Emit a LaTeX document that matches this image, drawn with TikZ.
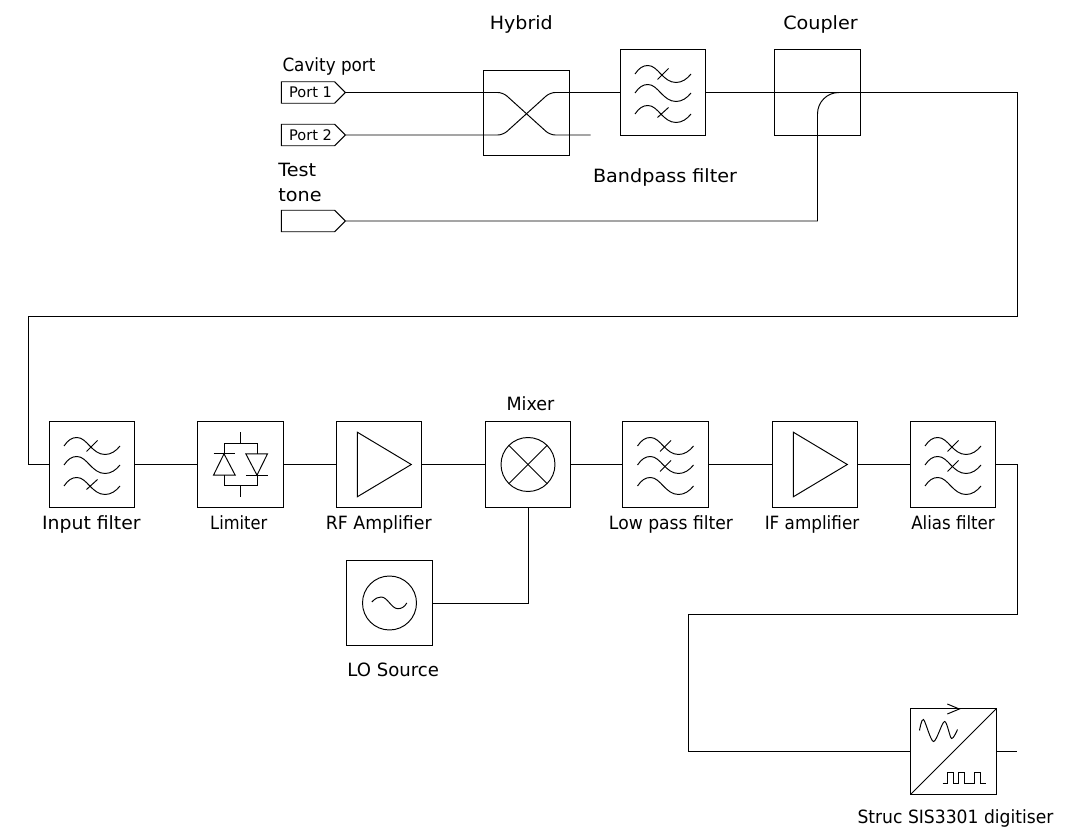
\documentclass[tikz,border=0pt]{standalone}
\usepackage{fontspec}
\setmainfont{DejaVu Sans}
\usetikzlibrary{shapes.symbols}
\tikzset{
    line/.style={line width=0.55pt},
    blockbox/.style={draw,line width=0.55pt,minimum size=1.71cm,inner sep=0pt},
    label/.style={font=\fontsize{10.4}{13.7}\selectfont\addfontfeature{FakeStretch=#1},inner sep=0pt,anchor=base},
    label/.default=0.94,
    portbox/.style={draw,line width=0.55pt,signal,signal to=east,signal pointer angle=90,
        minimum width=1.28cm,minimum height=0.43cm,inner sep=0pt,
        font=\fontsize{8.3}{9}\selectfont},
    wavesym/.pic={
        \foreach \wy in {-18.5,0.5,21.5}{
            \draw[line,yshift=-\wy*0.02cm] (-28,0) .. controls (-24,-6) and (-20,-8.5) .. (-15,-8.5)
                .. controls (-5,-8.5) and (0,8.5) .. (13,8.5)
                .. controls (19,8.5) and (24,5) .. (28,0);
        }
    },
    filtersym/.pic={
        \pic {wavesym};
        \draw[line] (-5.5,-13) -- (5.5,-24);
        \draw[line] (-5.5,25) -- (5.5,15);
    },
    lowpasssym/.pic={
        \pic {wavesym};
        \draw[line] (-5.5,-13) -- (5.5,-24);
        \draw[line] (-5.5,7) -- (5.5,-4);
    },
    limitersym/.pic={
        \draw[line] (0,-32.3) -- (0,-21.3);
        \draw[line] (0,21.3) -- (0,32.3);
        \draw[line] (-16.5,-10.7) -- (-16.5,-21.3) -- (16.5,-21.3) -- (16.5,-10.7);
        \draw[line] (-16.5,10.7) -- (-16.5,21.3) -- (16.5,21.3) -- (16.5,10.7);
        \draw[line] (-27,-10.7) -- (-5.3,-10.7);
        \draw[line] (-16.5,-10.7) -- (-27,10.7) -- (-5.3,10.7) -- cycle;
        \draw[line] (5.3,10.7) -- (27,10.7);
        \draw[line] (16.5,10.7) -- (27,-10.7) -- (5.3,-10.7) -- cycle;
    },
    ampsym/.pic={
        \draw[line] (-21.7,-32.3) -- (-21.7,32.3) -- (32.3,0) -- cycle;
    },
    mixersym/.pic={
        \draw[line] (0,0) circle (0.54cm);
        \draw[line] (-19,-19) -- (19,19);
        \draw[line] (-19,19) -- (19,-19);
    },
    sourcesym/.pic={
        \draw[line] (0,0) circle (0.54cm);
        \draw[line] (-17.7,-1) .. controls (-14,-5) and (-11,-6) .. (-8.3,-6)
            .. controls (-2,-6) and (2,5.7) .. (8.3,5.7)
            .. controls (12,5.7) and (15,4) .. (17.3,0);
    },
    adcsym/.pic={
        \draw[line] (-42.75,42.75) -- (42.75,-42.75);
        \draw[line] (-6.2,-47.5) -- (5.8,-42.5) -- (-6.2,-37.5);
        \draw[line] plot[smooth] coordinates {(-34,-21) (-30,-32) (-20,-10) (-9,-30) (-2,-13) (4,-22)};
        \draw[line] (-11,32) -- (-5.7,32) -- (-5.7,21) -- (0,21) -- (0,32) -- (5.3,32) -- (5.3,21)
            -- (10.7,21) -- (10.7,32) -- (21,32) -- (21,21) -- (26.7,21) -- (26.7,32) -- (32,32);
    }
}

\begin{document}
\begin{tikzpicture}[x=0.02cm,y=-0.02cm]
    \useasboundingbox (0,0) rectangle (1065,830);
    % top row
    \node[portbox] (Port1) at (308,92.5) {\hspace{0.1cm}Port 1};
    \node[portbox] (Port2) at (308,135) {\hspace{0.1cm}Port 2};
    \node[portbox] (TestPort) at (308,221) {};
    \node[blockbox] (Hybrid) at (526.5,113) {};
    \node[blockbox] (Bandpass) at (663,92.5) {};
    \node[blockbox] (Coupler) at (817.5,92.5) {};
    \node[label=1.04] (HybridText) at (521.3,29.3) {Hybrid};
    \node[label=0.92] (CavityText) at (329,71.7) {Cavity port};
    \node[label=1.05,align=left,anchor=west] (TestText) at (278,182.5) {Test\\tone};
    \node[label=1.05] (BandpassText) at (665,182.3) {Bandpass filter};
    \node[label=1.05] (CouplerText) at (820.5,29.3) {Coupler};
    \pic at (Bandpass) {filtersym};
    % middle row
    \node[blockbox] (InputFilter) at (92,464.5) {};
    \node[blockbox] (Limiter) at (240.5,464.5) {};
    \node[blockbox] (RFAmp) at (379,464.5) {};
    \node[blockbox] (Mixer) at (528,464.5) {};
    \node[blockbox] (LowPass) at (665.5,464.5) {};
    \node[blockbox] (IFAmp) at (815,464.5) {};
    \node[blockbox] (AliasFilter) at (953,464.5) {};
    \node[blockbox] (LOSource) at (389.5,603) {};
    \node[blockbox] (Digitiser) at (953.5,751.5) {};
    \pic at (InputFilter) {filtersym};
    \pic at (Limiter) {limitersym};
    \pic at (RFAmp) {ampsym};
    \pic at (Mixer) {mixersym};
    \pic at (LowPass) {lowpasssym};
    \pic at (IFAmp) {ampsym};
    \pic at (AliasFilter) {lowpasssym};
    \pic at (LOSource) {sourcesym};
    \pic at (Digitiser) {adcsym};
    \node[label=0.96] (MixerText) at (530.5,411) {Mixer};
    \node[label=1.03] (InputText) at (91.4,529.3) {Input filter};
    \node[label=0.89] (LimiterText) at (238.7,529.3) {Limiter};
    \node[label=0.95] (RFText) at (378.8,529.3) {RF Amplifier};
    \node[label] (LowPassText) at (671,529.3) {Low pass filter};
    \node[label=0.92] (IFText) at (812,529.3) {IF amplifier};
    \node[label=0.91] (AliasText) at (953,529.3) {Alias filter};
    \node[label=0.99] (LOText) at (393.2,676.7) {LO Source};
    \node[label] (DigitiserText) at (955.5,823) {Struc SIS3301 digitiser};
    % routing points
    \coordinate (HybA) at (503,92.5);
    \coordinate (HybB) at (503,135);
    \coordinate (HybC) at (550,135);
    \coordinate (HybD) at (550,92.5);
    \coordinate (HybEnd) at (590.7,135);
    \coordinate (CoupBend) at (817.5,221);
    \coordinate (CoupUp) at (817.5,114);
    \coordinate (CoupOut) at (839,92.5);
    \coordinate (TopRight) at (1017,92.5);
    \coordinate (LoopRight) at (1017,316);
    \coordinate (LoopLeft) at (28,316);
    \coordinate (InLeft) at (28,464.5);
    \coordinate (AliasRight) at (1017,464.5);
    \coordinate (DownRight) at (1017,614);
    \coordinate (DownLeft) at (688,614);
    \coordinate (DigLeft) at (688,751.5);
    \coordinate (DigEnd) at (1017,751.5);
    \coordinate (LOCorner) at (528,603);
    % connectors
    \draw[line,rounded corners=3pt] (Port1.east) -- (HybA) -- (HybC) -- (HybEnd);
    \draw[line,rounded corners=3pt] (Port2.east) -- (HybB) -- (HybD) -- (Bandpass.west);
    \draw[line] (Bandpass.east) -- (TopRight) -- (LoopRight) -- (LoopLeft) -- (InLeft) -- (InputFilter.west);
    \draw[line] (TestPort.east) -- (CoupBend) -- (CoupUp) .. controls (817.5,102) and (827,92.5) .. (CoupOut);
    \draw[line] (InputFilter.east) -- (Limiter.west);
    \draw[line] (Limiter.east) -- (RFAmp.west);
    \draw[line] (RFAmp.east) -- (Mixer.west);
    \draw[line] (Mixer.east) -- (LowPass.west);
    \draw[line] (LowPass.east) -- (IFAmp.west);
    \draw[line] (IFAmp.east) -- (AliasFilter.west);
    \draw[line] (AliasFilter.east) -- (AliasRight) -- (DownRight) -- (DownLeft) -- (DigLeft) -- (Digitiser.west);
    \draw[line] (Digitiser.east) -- (DigEnd);
    \draw[line] (LOSource.east) -- (LOCorner) -- (Mixer.south);
\end{tikzpicture}
\end{document}
